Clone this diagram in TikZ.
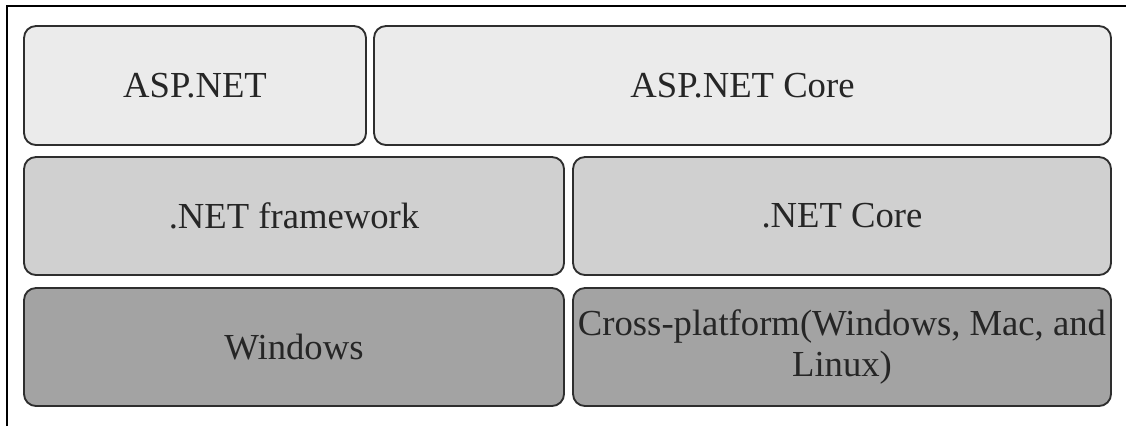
\documentclass[tikz,border=0pt]{standalone}
\usepackage{fontspec}
\setmainfont{Liberation Serif}
\usepackage{xcolor}
\usepackage{tikz}

\definecolor{topgray}{HTML}{EBEBEB}
\definecolor{midgray}{HTML}{D0D0D0}
\definecolor{lowgray}{HTML}{A3A3A3}
\definecolor{edgegray}{HTML}{2E2E2E}

\begin{document}
\begin{tikzpicture}[x=0.75pt,y=-0.75pt,
	layer/.style={draw=edgegray,line width=1.4pt,rounded corners=9pt,align=center,
		text=black!85,font=\fontsize{27.5}{31}\selectfont,inner sep=0pt},
	rowa/.style={layer,fill=topgray,minimum height=89.25pt},
	rowb/.style={layer,fill=midgray,minimum height=88.5pt},
	rowc/.style={layer,fill=lowgray,minimum height=88.5pt}]
	 \useasboundingbox (0,0) rectangle (1126,426);
	 % frame
	 \draw[line width=1.5pt] (6.5,426) -- (6.5,5.5) -- (1126,5.5);
	 % web layer
	 \node[rowa,minimum width=256.5pt] (asp) at (195,85.5) {ASP.NET};
	 \node[rowa,minimum width=552.75pt] (aspcore) at (742.5,85.5) {ASP.NET Core};
	 % runtime layer
	 \node[rowb,minimum width=405pt] (netfw) at (294,216) {.NET framework};
	 \node[rowb,minimum width=403.5pt] (netcore) at (842,216) {.NET Core};
	 % platform layer
	 \node[rowc,minimum width=405pt] (win) at (294,347) {Windows};
	 \node[rowc,minimum width=403.5pt] (cross) at (842,347) {Cross-platform(Windows, Mac, and\\Linux)};
\end{tikzpicture}
\end{document}
